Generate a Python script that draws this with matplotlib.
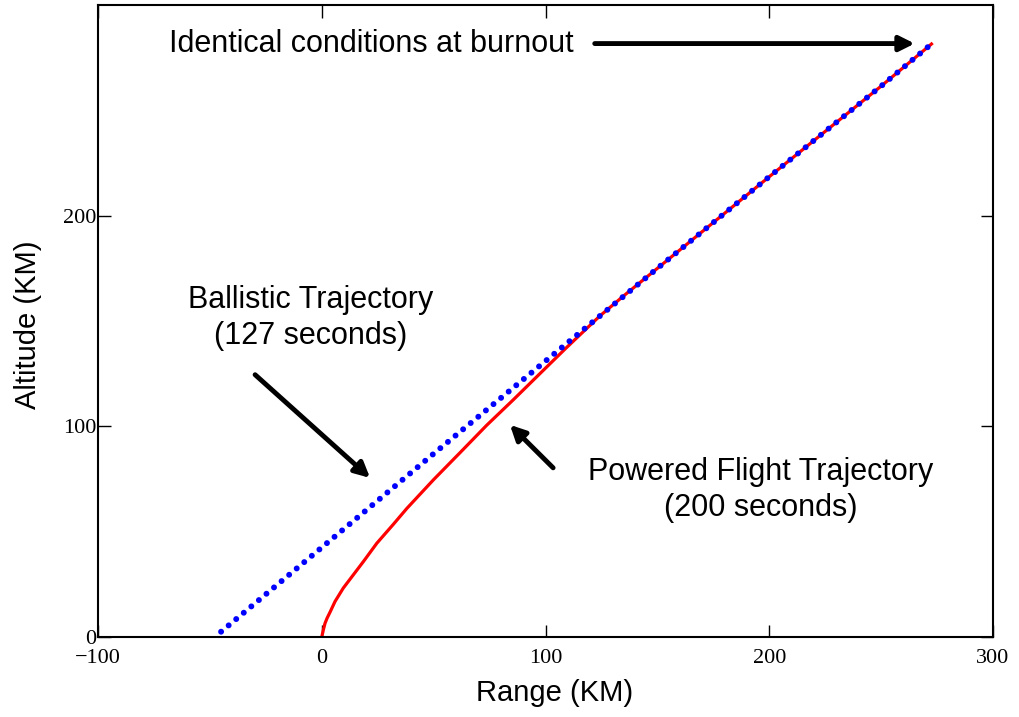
import matplotlib.pyplot as plt

# powered flight trajectory (range, altitude in km)
powered_x = [0.0, 0.3, 0.8, 1.45, 2.4, 3.7, 5.9, 9.6, 14.1, 18.6, 24.6, 32.0,
             38.0, 49.9, 61.8, 73.7, 85.5, 97.0, 109.5, 124.4, 135.0, 150.0,
             200.0, 250.0, 272.5]
powered_y = [0.0, 1.5, 3.8, 6.5, 9.0, 11.8, 16.8, 23.2, 29.5, 35.8, 44.5, 53.5,
             61.0, 74.6, 87.5, 100.5, 112.5, 124.5, 137.5, 152.5, 162.0, 175.0,
             218.5, 261.5, 281.5]

# ballistic trajectory with the same burnout state
ballistic_x = [-45.0, 0.0, 50.0, 100.0, 150.0, 200.0, 250.0, 272.5]
ballistic_y = [2.5, 42.5, 87.0, 131.0, 175.0, 218.5, 261.5, 281.5]

x_ticks = [-100, 0, 100, 200, 300]
x_tick_labels = ["\u2212100", "0", "100", "200", "300"]
y_ticks = [0, 100, 200]

SANS = "Liberation Sans"
SERIF = "Liberation Serif"


def main():
    fig = plt.figure(figsize=(10.19, 7.17), dpi=100)
    ax = fig.add_axes([0.0962, 0.1116, 0.8783, 0.8814])

    ax.plot(powered_x, powered_y, color="red", lw=2.3, zorder=2)
    ax.plot(ballistic_x, ballistic_y, color="blue", lw=4.3,
            linestyle=(0, (0.001, 1.65)), dash_capstyle="round", zorder=3)

    ax.set_xlim(-100, 300)
    ax.set_ylim(0, 300)
    ax.set_xticks(x_ticks)
    ax.set_xticklabels(x_tick_labels)
    ax.set_yticks(y_ticks)

    ax.tick_params(axis="both", direction="in", length=9, width=1,
                   top=True, right=True, labelsize=16)
    ax.tick_params(axis="x", pad=9)
    ax.tick_params(axis="y", pad=1)
    for lab in ax.get_xticklabels() + ax.get_yticklabels():
        lab.set_family(SERIF)
    for sp in ax.spines.values():
        sp.set_linewidth(1.5)

    ax.set_xlabel("Range (KM)", fontsize=21, family=SANS)
    ax.xaxis.set_label_coords(0.51, -0.088)
    ax.xaxis.label.set_verticalalignment("center")
    ax.set_ylabel("Altitude (KM)", fontsize=21, family=SANS)
    ax.yaxis.set_label_coords(-0.078, 0.494)
    ax.yaxis.label.set_verticalalignment("center")

    arrow = dict(arrowstyle="-|>,head_length=0.9,head_width=0.45",
                 color="black", lw=3.5, shrinkA=0, shrinkB=0)

    ax.annotate("", xy=(265.0, 281.7), xytext=(122.0, 281.7), arrowprops=arrow)
    ax.text(22.2, 281.7, "Identical conditions at burnout", fontsize=22,
            family=SANS, ha="center", va="center")

    ax.annotate("", xy=(21.6, 75.5), xytext=(-29.8, 124.5), arrowprops=arrow)
    ax.text(-4.8, 151.5, "Ballistic Trajectory\n(127 seconds)", fontsize=22,
            family=SANS, ha="center", va="center", linespacing=1.25)

    ax.annotate("", xy=(84.1, 100.7), xytext=(103.4, 80.3), arrowprops=arrow)
    ax.text(196.3, 69.6, "Powered Flight Trajectory\n(200 seconds)", fontsize=22,
            family=SANS, ha="center", va="center", linespacing=1.25)

    fig.savefig("out.png", dpi=100)


if __name__ == "__main__":
    main()
